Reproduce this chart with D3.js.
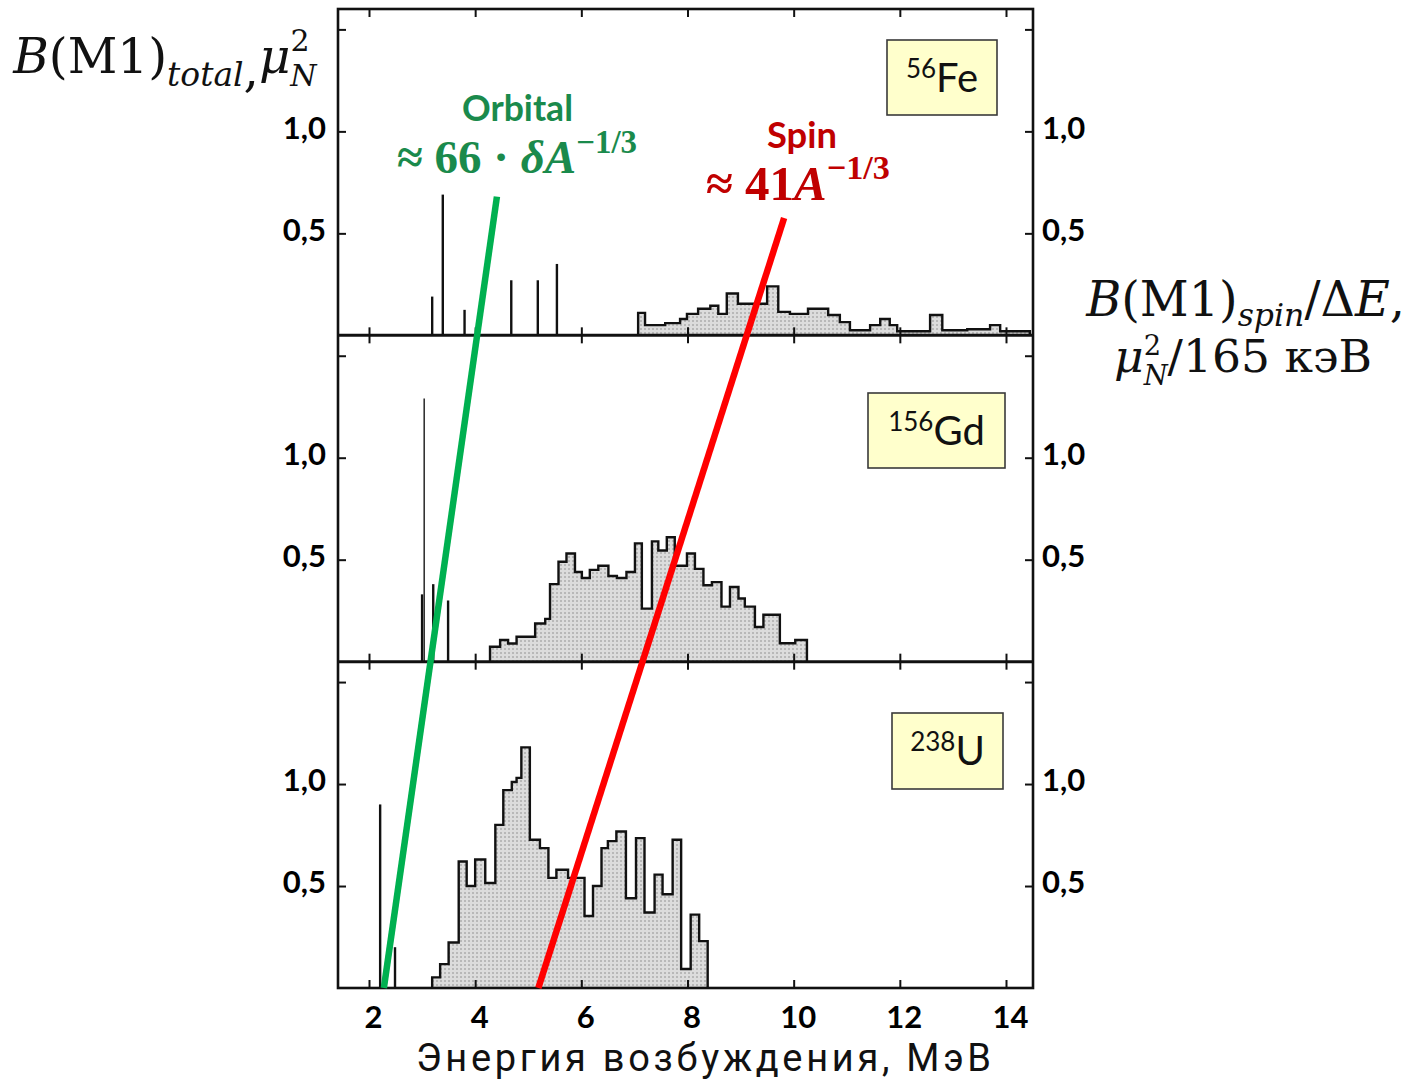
<!DOCTYPE html>
<html><head><meta charset="utf-8">
<script src="https://cdn.jsdelivr.net/npm/d3@7"></script>
<style>body{margin:0;background:#fff}svg{display:block}</style>
</head><body><svg id="chart" width="1416" height="1082"></svg>
<script>
// ---------------- DATA ----------------
const energyTicks = [2, 4, 6, 8, 10, 12, 14];
const frameYTicks = [0.5, 1.0, 1.5];
const yLabelValues = [0.5, 1.0];
const yLabelText = ["0,5", "1,0"];
const isotopeMass = ["56", "156", "238"];
const isotopeSymbol = ["Fe", "Gd", "U"];

// 56Fe: discrete transitions (MeV, B(M1) mu_N^2)
const feLineE = [3.19, 3.39, 3.80, 4.68, 5.18, 5.54];
const feLineB = [0.19, 0.69, 0.125, 0.27, 0.27, 0.35];
// 56Fe: spin strength histogram (bin edges, values)
const feHistEdges = [7.07, 7.20, 7.58, 7.86, 7.99, 8.20, 8.43, 8.58, 8.74, 8.95, 9.50, 9.71, 9.93, 10.27,
  10.65, 10.87, 11.06, 11.44, 11.63, 11.81, 11.95, 12.57, 12.80, 13.27, 13.70, 13.89, 14.45];
const feHistB = [0.11, 0.05, 0.06, 0.08, 0.105, 0.13, 0.145, 0.105, 0.205, 0.155, 0.24, 0.115, 0.105,
  0.13, 0.10, 0.065, 0.025, 0.05, 0.08, 0.05, 0.02, 0.10, 0.025, 0.03, 0.05, 0.02];

// 156Gd
const gdLineE = [3.00, 3.04, 3.21, 3.49];
const gdLineB = [0.33, 1.29, 0.38, 0.30];
const gdHistEdges = [4.28, 4.47, 4.62, 4.78, 5.13, 5.32, 5.41, 5.57, 5.72, 5.88, 6.01, 6.16, 6.32, 6.51,
  6.67, 6.85, 7.01, 7.14, 7.33, 7.45, 7.61, 7.76, 7.99, 8.14, 8.30, 8.46, 8.64, 8.80, 8.96, 9.08, 9.27,
  9.43, 9.74, 10.03, 10.25];
const gdHistB = [0.073, 0.106, 0.089, 0.122, 0.187, 0.21, 0.38, 0.49, 0.53, 0.44, 0.41, 0.45, 0.47, 0.42,
  0.41, 0.44, 0.58, 0.26, 0.59, 0.545, 0.61, 0.47, 0.53, 0.455, 0.375, 0.39, 0.27, 0.366, 0.31, 0.27,
  0.17, 0.23, 0.09, 0.106];

// 238U
const uLineE = [2.21, 2.49];
const uLineB = [0.90, 0.20];
const uHistEdges = [3.19, 3.34, 3.50, 3.69, 3.84, 4.00, 4.19, 4.38, 4.53, 4.69, 4.78, 4.87, 5.03, 5.22,
  5.38, 5.53, 5.75, 6.06, 6.22, 6.38, 6.50, 6.66, 6.84, 7.03, 7.19, 7.38, 7.53, 7.72, 7.88, 8.06, 8.22, 8.38];
const uHistB = [0.052, 0.117, 0.223, 0.62, 0.50, 0.63, 0.515, 0.80, 0.97, 1.01, 1.03, 1.18, 0.727, 0.686,
  0.54, 0.58, 0.54, 0.353, 0.50, 0.686, 0.72, 0.767, 0.44, 0.735, 0.37, 0.556, 0.46, 0.727, 0.093, 0.36, 0.23];

// Systematics lines: endpoints [E, B, panel index]
const orbitalLineE = [4.41, 2.28];
const orbitalLineB = [0.68, 0.0];
const orbitalLinePanel = [0, 2];
const spinLineE = [9.82, 5.19];
const spinLineB = [0.575, 0.0];
const spinLinePanel = [0, 2];

// ---------------- LAYOUT ----------------
const svg = d3.select("#chart");
const frame = {left: 338, right: 1033, top: 9, bottom: 988};
const panelH = (frame.bottom - frame.top) / 3;
const x = d3.scaleLinear().domain([2, 14]).range([369, 1006]);
const ys = [0, 1, 2].map(i => d3.scaleLinear().domain([0, 1.6])
  .range([frame.top + (i + 1) * panelH, frame.top + i * panelH]));

const SANS = "Lato, 'Open Sans', sans-serif";
const SERIF = "'DejaVu Serif', 'Liberation Serif', serif";
const FSERIF = "'Liberation Serif', 'DejaVu Serif', serif";

// fill pattern for histograms
const defs = svg.append("defs");
const pat = defs.append("pattern").attr("id", "grain").attr("patternUnits", "userSpaceOnUse")
  .attr("width", 4).attr("height", 4);
pat.append("rect").attr("width", 4).attr("height", 4).attr("fill", "#dcdcdc");
pat.append("rect").attr("width", 2).attr("height", 2).attr("fill", "#b8b8b8");

const panels = [
  {lineE: feLineE, lineB: feLineB, edges: feHistEdges, vals: feHistB},
  {lineE: gdLineE, lineB: gdLineB, edges: gdHistEdges, vals: gdHistB},
  {lineE: uLineE, lineB: uLineB, edges: uHistEdges, vals: uHistB}
];

function stepPoints(edges, vals) {
  const pts = [[edges[0], 0]];
  vals.forEach((v, i) => { pts.push([edges[i], v]); pts.push([edges[i + 1], v]); });
  pts.push([edges[edges.length - 1], 0]);
  return pts;
}

const boxes = [[887, 40, 110, 75], [868, 393, 137, 75], [892, 713, 111, 76]];

panels.forEach((p, i) => {
  const y = ys[i];
  const g = svg.append("g");
  const line = d3.line().x(d => x(d[0])).y(d => y(d[1]));
  g.append("path").attr("d", line(stepPoints(p.edges, p.vals)))
    .attr("fill", "url(#grain)").attr("stroke", "#111").attr("stroke-width", 2.4)
    .attr("stroke-linejoin", "miter");
  g.selectAll("line.tr").data(p.lineE.map((e, k) => [e, p.lineB[k]])).join("line")
    .attr("x1", d => x(d[0])).attr("x2", d => x(d[0]))
    .attr("y1", y(0)).attr("y2", d => y(d[1]))
    .attr("stroke", (d) => d[1] > 1.0 ? "#333" : "#111")
    .attr("stroke-width", (d) => d[1] > 1.0 ? 1.6 : 2.4);

  // ticks along top and bottom of each panel (inward)
  const axTop = svg.append("g").attr("transform", `translate(0,${y.range()[1]})`)
    .call(d3.axisBottom(x).tickValues(energyTicks).tickSize(8).tickFormat(""));
  const axBot = svg.append("g").attr("transform", `translate(0,${y.range()[0]})`)
    .call(d3.axisTop(x).tickValues(energyTicks).tickSize(8).tickFormat(""));
  const axL = svg.append("g").attr("transform", `translate(${frame.left},0)`)
    .call(d3.axisRight(y).tickValues(frameYTicks).tickSize(8).tickFormat(""));
  const axR = svg.append("g").attr("transform", `translate(${frame.right},0)`)
    .call(d3.axisLeft(y).tickValues(frameYTicks).tickSize(8).tickFormat(""));
  [axTop, axBot, axL, axR].forEach(a => {
    a.select(".domain").remove();
    a.selectAll(".tick line").attr("stroke", "#111").attr("stroke-width", 2);
  });

  // tick labels left and right
  const lab = svg.append("g").attr("transform", `translate(326,0)`)
    .call(d3.axisLeft(y).tickValues(yLabelValues).tickSize(0).tickPadding(0)
      .tickFormat(v => yLabelText[yLabelValues.indexOf(v)]));
  const labR = svg.append("g").attr("transform", `translate(1042,0)`)
    .call(d3.axisRight(y).tickValues(yLabelValues).tickSize(0).tickPadding(0)
      .tickFormat(v => yLabelText[yLabelValues.indexOf(v)]));
  [lab, labR].forEach(a => {
    a.select(".domain").remove();
    a.attr("font-family", SANS).attr("font-size", 31).attr("font-weight", 700);
    a.selectAll("text").attr("fill", "#000").attr("dy", "0.22em");
  });

  // isotope box
  const bx = boxes[i];
  svg.append("rect").attr("x", bx[0]).attr("y", bx[1]).attr("width", bx[2]).attr("height", bx[3])
    .attr("fill", "#ffffcc").attr("stroke", "#3a3a3a").attr("stroke-width", 1.6);
  const t = svg.append("text").attr("x", bx[0] + bx[2] / 2).attr("y", bx[1] + bx[3] / 2 + 14)
    .attr("text-anchor", "middle").attr("font-family", SANS).attr("fill", "#111");
  t.append("tspan").attr("font-size", 26).attr("dy", -14).text(isotopeMass[i]);
  t.append("tspan").attr("font-size", 40).attr("dy", 14).text(isotopeSymbol[i]);
});

// frame and separators
svg.append("rect").attr("x", frame.left).attr("y", frame.top)
  .attr("width", frame.right - frame.left).attr("height", frame.bottom - frame.top)
  .attr("fill", "none").attr("stroke", "#111").attr("stroke-width", 2.6);
[1, 2].forEach(i => {
  svg.append("line").attr("x1", frame.left).attr("x2", frame.right)
    .attr("y1", ys[i].range()[1]).attr("y2", ys[i].range()[1])
    .attr("stroke", "#111").attr("stroke-width", 3);
});

// systematics lines
function sysLine(E, B, P, color) {
  svg.append("line")
    .attr("x1", x(E[0])).attr("y1", ys[P[0]](B[0]))
    .attr("x2", x(E[1])).attr("y2", ys[P[1]](B[1]))
    .attr("stroke", color).attr("stroke-width", 6.5);
}
sysLine(orbitalLineE, orbitalLineB, orbitalLinePanel, "#00b050");
sysLine(spinLineE, spinLineB, spinLinePanel, "#ff0000");

// x-axis labels
const xl = svg.append("g").attr("transform", "translate(4,1028)")
  .call(d3.axisBottom(x).tickValues(energyTicks).tickSize(0).tickPadding(0));
xl.select(".domain").remove();
xl.attr("font-family", SANS).attr("font-size", 31).attr("font-weight", 700);
xl.selectAll("text").attr("dy", 0).attr("fill", "#000");

// helper: fit text width by uniform scaling
function placeFit(sel, left, baseline, width) {
  const bb = sel.node().getBBox();
  const s = width / bb.width;
  sel.attr("transform", `translate(${left - bb.x * s},${baseline}) scale(${s})`);
}

// x title: natural glyph size, width matched with letter spacing
const titleText = "Энергия возбуждения, МэВ";
const xt = svg.append("text").attr("font-family", "Roboto, 'Noto Sans', sans-serif")
  .attr("font-size", 38).attr("fill", "#111").attr("x", 416).attr("y", 1071).text(titleText);
const w0 = xt.node().getComputedTextLength();
xt.attr("letter-spacing", Math.max(0, (575 - w0) / (titleText.length - 1)));

// math-style labels
function mathLabel(parts, base, family) {
  const t = svg.append("text").attr("font-family", family || SERIF).attr("font-size", base).attr("fill", "#111");
  parts.forEach(p => {
    const ts = t.append("tspan").text(p.t);
    if (p.i) ts.attr("font-style", "italic");
    if (p.s) ts.attr("font-size", base * p.s);
    if (p.dy) ts.attr("dy", base * p.dy);
    if (p.dx) ts.attr("dx", base * p.dx);
    if (p.w) ts.attr("font-weight", p.w);
  });
  return t;
}
const yl = mathLabel([
  {t: "B", i: 1}, {t: "(M1)"}, {t: "total", i: 1, s: 0.68, dy: 0.26}, {t: ","},
  {t: "μ", i: 1, dy: -0.26}, {t: "2", s: 0.62, dy: -0.45}, {t: "N", i: 1, s: 0.62, dx: -0.4, dy: 0.72}
], 42);
placeFit(yl, 12, 73, 306);

const yr1 = mathLabel([
  {t: "B", i: 1}, {t: "(M1)"}, {t: "spin", i: 1, s: 0.66, dy: 0.2}, {t: "/", dy: -0.2},
  {t: "Δ"}, {t: "E", i: 1}, {t: ","}
], 42);
placeFit(yr1, 1085, 316, 320);
const yr2 = mathLabel([
  {t: "μ", i: 1}, {t: "2", s: 0.6, dy: -0.38}, {t: "N", i: 1, s: 0.6, dx: -0.38, dy: 0.66},
  {t: "/165 кэВ", dy: -0.28}
], 42);
placeFit(yr2, 1114, 372, 258);

// annotations
const orb = svg.append("text").attr("font-family", SANS).attr("font-weight", 700).attr("font-size", 32)
  .attr("fill", "#1a8a4c").text("Orbital");
placeFit(orb, 462, 121, 111);
const orbF = mathLabel([
  {t: "≈ 66 · ", w: 700}, {t: "δA", i: 1, w: 700}, {t: "−1/3", s: 0.7, dy: -0.42, w: 700}
], 36, FSERIF);
orbF.attr("fill", "#1a8a4c");
placeFit(orbF, 397, 173, 240);

const spn = svg.append("text").attr("font-family", SANS).attr("font-weight", 700).attr("font-size", 30)
  .attr("fill", "#c00000").text("Spin");
placeFit(spn, 767, 148, 70);
const spnF = mathLabel([
  {t: "≈ 41", w: 700}, {t: "A", i: 1, w: 700}, {t: "−1/3", s: 0.7, dy: -0.42, w: 700}
], 36, FSERIF);
spnF.attr("fill", "#c00000");
placeFit(spnF, 706, 200, 184);
</script>
</body></html>
